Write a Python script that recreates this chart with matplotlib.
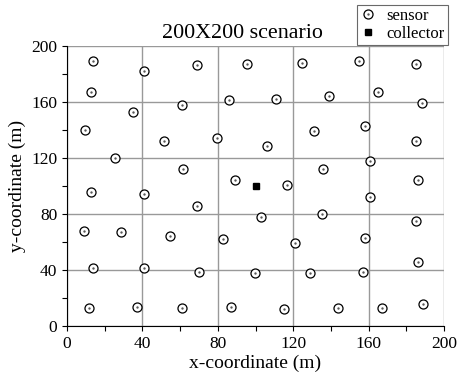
import matplotlib
matplotlib.use("Agg")
import matplotlib.pyplot as plt
from matplotlib.ticker import MultipleLocator
from matplotlib.legend_handler import HandlerTuple

# sensor positions (metres)
sensor_x = [13.8, 40.8, 69.0, 95.7, 124.8, 155.0, 184.9,
            12.9, 34.8, 60.8, 85.8, 110.8, 139.0, 164.9, 188.1,
            9.8, 51.6, 79.8, 105.9, 130.9, 158.0, 184.9,
            25.7, 61.7, 135.8, 160.8,
            12.9, 40.8, 89.0, 116.8, 186.0, 160.8,
            69.0, 103.0, 135.3, 184.9,
            8.9, 28.9, 54.8, 82.8, 120.9, 158.0, 186.0,
            13.8, 40.8, 69.9, 99.8, 128.9, 157.1,
            11.9, 36.9, 60.8, 86.9, 114.9, 144.0, 167.0, 189.0]
sensor_y = [189.0, 182.1, 186.2, 187.1, 188.1, 189.0, 187.1,
            167.1, 153.0, 158.0, 161.1, 162.1, 164.2, 167.1, 159.0,
            140.1, 132.0, 134.1, 128.2, 138.9, 143.0, 132.0,
            120.0, 111.9, 111.9, 118.1,
            95.9, 94.0, 104.1, 101.0, 104.1, 91.9,
            85.9, 78.0, 80.0, 74.9,
            68.0, 67.1, 64.0, 62.1, 59.0, 63.0, 45.8,
            41.1, 41.1, 38.9, 37.9, 37.9, 38.9,
            12.9, 13.8, 12.9, 13.8, 11.9, 12.9, 12.9, 16.0]
collector_x = [100]
collector_y = [100]

plt.rcParams['font.family'] = ['Liberation Serif', 'DejaVu Serif']

fig = plt.figure(figsize=(4.57, 3.76), dpi=100)
ax = fig.add_axes([0.1466, 0.133, 0.825, 0.745])

ring, = ax.plot(sensor_x, sensor_y, 'o', mfc='white', mec='black', mew=0.9,
                ms=6.5, ls='none', zorder=3)
dot, = ax.plot(sensor_x, sensor_y, 'o', color='#555555', ms=0.7, ls='none', zorder=4)
coll, = ax.plot(collector_x, collector_y, 's', color='black', ms=4.5, ls='none', zorder=3)

ax.set_xlim(0, 200)
ax.set_ylim(0, 200)
ax.xaxis.set_major_locator(MultipleLocator(40))
ax.yaxis.set_major_locator(MultipleLocator(40))
ax.xaxis.set_minor_locator(MultipleLocator(20))
ax.yaxis.set_minor_locator(MultipleLocator(20))
ax.tick_params(which='both', direction='out', length=3.5, width=0.8, labelsize=12.5)
ax.grid(True, which='major', color='#999999', lw=1.0)
ax.spines['top'].set_visible(False)
ax.spines['right'].set_visible(False)

ax.set_xlabel("x-coordinate (m)", fontsize=14, labelpad=2)
ax.set_ylabel("y-coordinate (m)", fontsize=14, labelpad=4)
fig.text(0.53, 0.91, "200X200 scenario", ha='center', va='center', fontsize=15.8)

leg = fig.legend([(ring, dot), coll], ["sensor", "collector"],
                 handler_map={tuple: HandlerTuple(ndivide=1, pad=0)},
                 loc='upper right', bbox_to_anchor=(0.981, 0.987),
                 fontsize=12, frameon=True, fancybox=False, edgecolor='#444444',
                 handlelength=1.0, handletextpad=0.6, borderpad=0.2,
                 labelspacing=0.1, borderaxespad=0)
leg.get_frame().set_linewidth(0.8)

fig.savefig("out.png", dpi=100)
